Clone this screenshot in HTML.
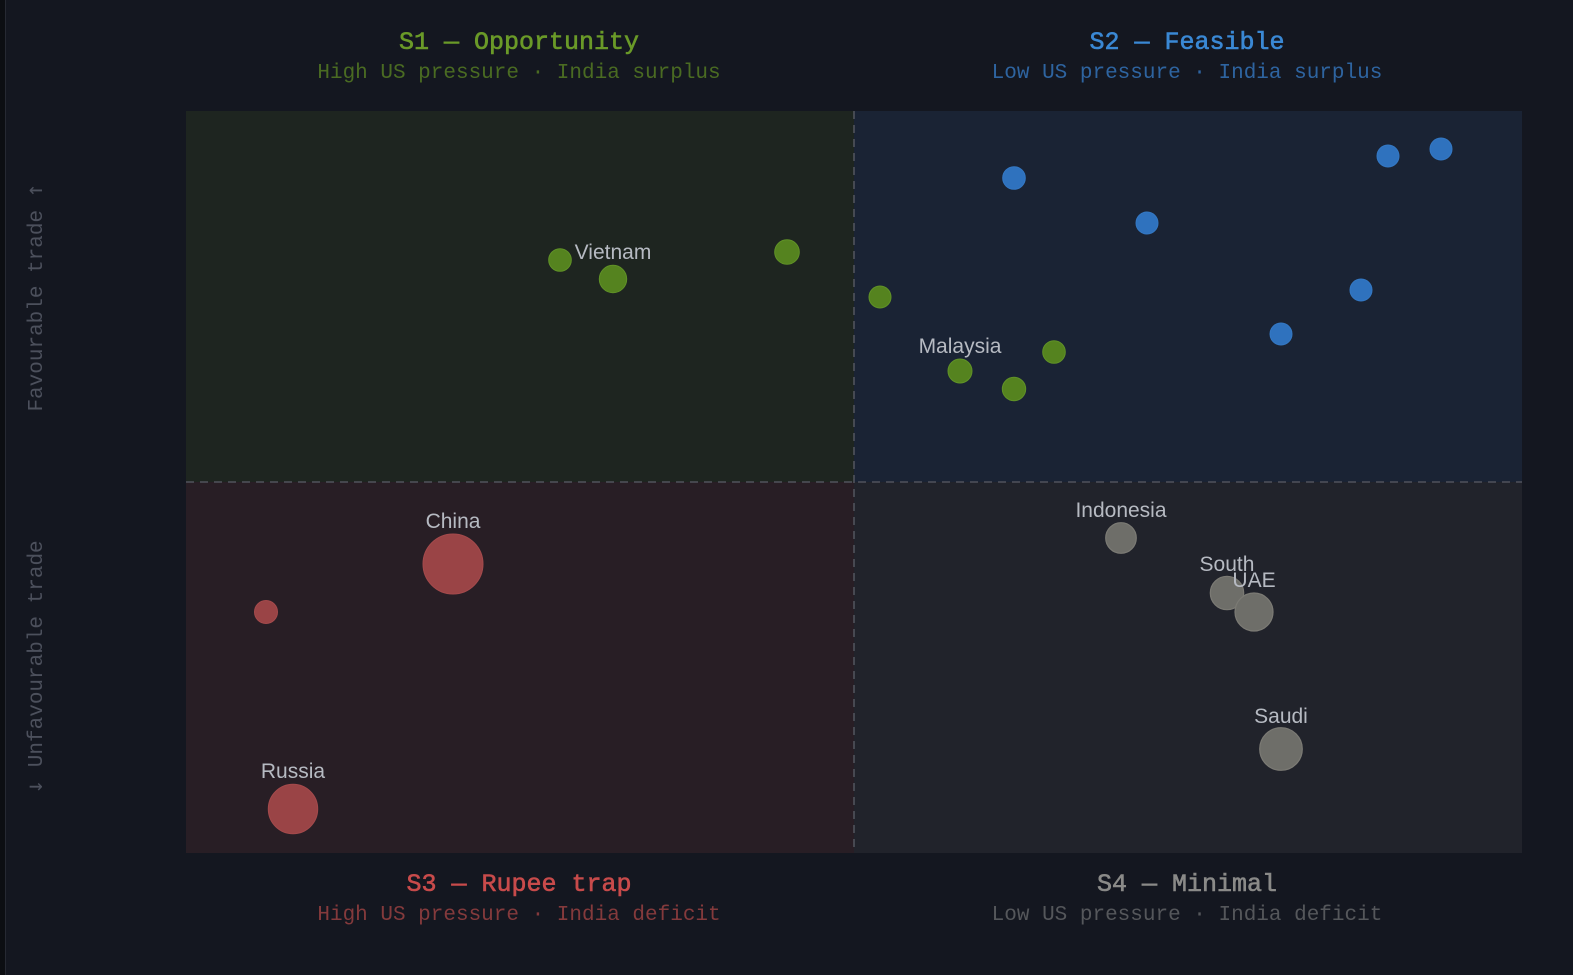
<!DOCTYPE html>
<html>
<head>
<meta charset="utf-8">
<style>
  html,body{margin:0;padding:0;background:#141720;}
  svg{display:block;}
  .t{font-family:"Liberation Mono",monospace;text-anchor:middle;}
  .ti{font-family:"Liberation Mono",monospace;text-anchor:middle;font-size:25px;stroke-width:0.6;}
  .lab{font-family:"Liberation Sans",sans-serif;font-size:21px;fill:#b6bac2;text-anchor:middle;}
  .arr{font-family:"DejaVu Sans Mono",monospace;font-size:23px;}
</style>
</head>
<body>
<svg width="1573" height="975" viewBox="0 0 1573 975" xmlns="http://www.w3.org/2000/svg">
  <rect x="0" y="0" width="1573" height="975" fill="#141720"/>
  <rect x="0" y="0" width="5" height="975" fill="#0c0e12"/>
  <line x1="5.5" y1="0" x2="5.5" y2="975" stroke="#262932" stroke-width="1"/>

  <!-- quadrants -->
  <rect x="186" y="111" width="668" height="371" fill="#1e2520"/>
  <rect x="854" y="111" width="668" height="371" fill="#1a2334"/>
  <rect x="186" y="482" width="668" height="371" fill="#281e25"/>
  <rect x="854" y="482" width="668" height="371" fill="#21232b"/>

  <!-- dashed dividers -->
  <line x1="854" y1="111" x2="854" y2="853" stroke="#50535c" stroke-width="1.6" stroke-dasharray="8 6"/>
  <line x1="186" y1="482" x2="1522" y2="482" stroke="#50535c" stroke-width="1.6" stroke-dasharray="8 6"/>

  <!-- titles -->
  <text class="ti" x="519" y="49" fill="#6a9a28" stroke="#6a9a28">S1 — Opportunity</text>
  <text class="t" x="519" y="78" font-size="21" fill="#4a6b22">High US pressure · India surplus</text>
  <text class="ti" x="1187" y="49" fill="#3a88d4" stroke="#3a88d4">S2 — Feasible</text>
  <text class="t" x="1187" y="78" font-size="21" fill="#2e64a0">Low US pressure · India surplus</text>
  <text class="ti" x="519" y="891" fill="#c84b4b" stroke="#c84b4b">S3 — Rupee trap</text>
  <text class="t" x="519" y="920" font-size="21" fill="#843a3c">High US pressure · India deficit</text>
  <text class="ti" x="1187" y="891" fill="#8a8a88" stroke="#8a8a88">S4 — Minimal</text>
  <text class="t" x="1187" y="920" font-size="21" fill="#55575b">Low US pressure · India deficit</text>

  <!-- axis labels -->
  <text class="t" font-size="21" fill="#4c505c" transform="translate(42,297.5) rotate(-90)">Favourable trade <tspan class="arr">↑</tspan></text>
  <text class="t" font-size="21" fill="#4c505c" transform="translate(42,667) rotate(-90)"><tspan class="arr">↓</tspan> Unfavourable trade</text>

  <!-- green -->
  <g fill="#55831f" stroke="#609227" stroke-width="1">
    <circle cx="560" cy="260" r="11.3"/>
    <circle cx="613" cy="279" r="13.7"/>
    <circle cx="787" cy="252" r="12.3"/>
    <circle cx="880" cy="297" r="11"/>
    <circle cx="960" cy="371" r="12"/>
    <circle cx="1014" cy="389" r="11.7"/>
    <circle cx="1054" cy="352" r="11.3"/>
  </g>
  <!-- blue -->
  <g fill="#2f72be" stroke="#3478c4" stroke-width="1">
    <circle cx="1014" cy="178" r="11.3"/>
    <circle cx="1147" cy="223" r="11"/>
    <circle cx="1388" cy="156" r="11"/>
    <circle cx="1441" cy="149" r="11"/>
    <circle cx="1361" cy="290" r="11"/>
    <circle cx="1281" cy="334" r="11"/>
  </g>
  <!-- red -->
  <g fill="#9a4446" stroke="#a44a4c" stroke-width="1">
    <circle cx="453" cy="564" r="30"/>
    <circle cx="266" cy="612" r="11.5"/>
    <circle cx="293" cy="809" r="24.7"/>
  </g>
  <!-- gray -->
  <g fill="#6e6e69" stroke="#7b7a74" stroke-width="1.2">
    <circle cx="1121" cy="538" r="15.3"/>
    <circle cx="1227" cy="593" r="16.7"/>
    <circle cx="1254" cy="612" r="19"/>
    <circle cx="1281" cy="749" r="21.3"/>
  </g>

  <!-- labels -->
  <text class="lab" x="613" y="259">Vietnam</text>
  <text class="lab" x="960" y="353">Malaysia</text>
  <text class="lab" x="453" y="528">China</text>
  <text class="lab" x="293" y="778">Russia</text>
  <text class="lab" x="1121" y="517">Indonesia</text>
  <text class="lab" x="1227" y="571">South</text>
  <text class="lab" x="1254" y="587">UAE</text>
  <text class="lab" x="1281" y="723">Saudi</text>
</svg>
</body>
</html>
